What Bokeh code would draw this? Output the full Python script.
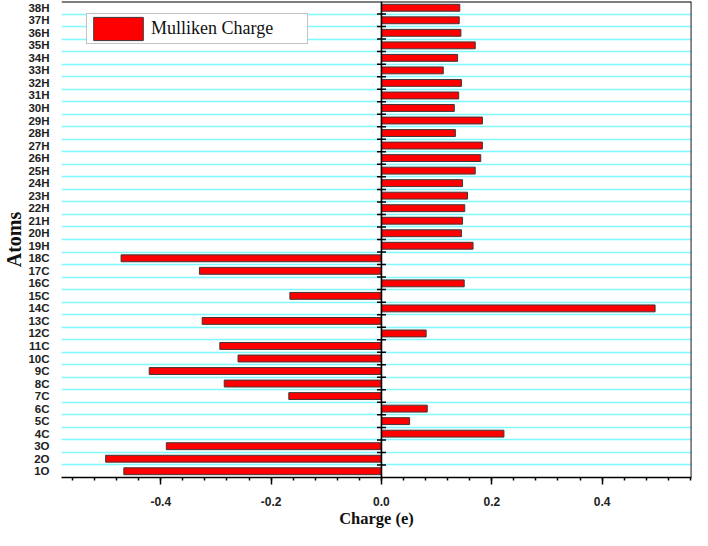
from bokeh.plotting import figure
from bokeh.models import (ColumnDataSource, FixedTicker, SingleIntervalTicker,
                          NumeralTickFormatter, Range1d, Legend, LegendItem, Span)
from bokeh.embed import file_html
from bokeh.resources import INLINE

atoms = ["1O", "2O", "3O", "4C", "5C", "6C", "7C", "8C", "9C", "10C",
         "11C", "12C", "13C", "14C", "15C", "16C", "17C", "18C", "19H", "20H",
         "21H", "22H", "23H", "24H", "25H", "26H", "27H", "28H", "29H", "30H",
         "31H", "32H", "33H", "34H", "35H", "36H", "37H", "38H"]
charges = [-0.467, -0.500, -0.390, 0.222, 0.051, 0.083, -0.168, -0.285, -0.421, -0.260,
           -0.293, 0.081, -0.325, 0.496, -0.166, 0.150, -0.330, -0.472, 0.166, 0.145,
           0.147, 0.151, 0.156, 0.147, 0.170, 0.180, 0.183, 0.134, 0.183, 0.132,
           0.140, 0.145, 0.112, 0.138, 0.170, 0.144, 0.141, 0.142]

n = len(atoms)
idx = list(range(n))
bounds = [i + 0.5 for i in range(n - 1)]

src = ColumnDataSource(dict(y=idx, right=charges, atom=atoms))
tick_src = ColumnDataSource(dict(x=[0.0] * len(bounds), y=bounds))

x_range = Range1d(-0.58, 0.562)
y_range = Range1d(-0.5, n - 0.5)

p = figure(width=692, height=530, output_backend="svg", toolbar_location=None,
           x_range=x_range, y_range=y_range,
           min_border_left=20, min_border_right=1, min_border_top=1, min_border_bottom=0)
p.outline_line_color = None
p.background_fill_color = "white"
p.border_fill_color = "white"

# grid
p.xgrid.grid_line_color = None
p.ygrid.ticker = FixedTicker(ticks=bounds)
p.ygrid.grid_line_color = "#7ff8ff"
p.ygrid.grid_line_width = 1.6

bars = p.hbar(y="y", left=0, right="right", height=0.55, source=src,
              fill_color="#ff0000", line_color="#3a3a3a", line_width=1)

# zero line with ticks
p.add_layout(Span(location=0, dimension="height", line_color="black", line_width=1.6))
p.scatter(x="x", y="y", source=tick_src, marker="dash", size=9, line_color="black",
          line_width=1.5)

# top and right borders
p.add_layout(Span(location=y_range.end, dimension="width", line_color="black", line_width=1.8))
p.add_layout(Span(location=x_range.end, dimension="height", line_color="black", line_width=1.8))

# x axis
xa = p.xaxis[0]
xa.ticker = SingleIntervalTicker(interval=0.2, num_minor_ticks=5)
xa.formatter = NumeralTickFormatter(format="0.0")
xa.axis_label = "Charge (e)"
xa.axis_label_text_font = "Liberation Serif"
xa.axis_label_text_font_style = "bold"
xa.axis_label_text_font_size = "16.5px"
xa.axis_label_text_color = "#111111"
xa.axis_label_standoff = 0
xa.major_label_text_font = "Liberation Sans"
xa.major_label_text_font_style = "bold"
xa.major_label_text_font_size = "12px"
xa.major_label_text_color = "#222222"
xa.major_label_standoff = 12
xa.axis_line_color = "black"
xa.axis_line_width = 1.6
xa.major_tick_line_color = "black"
xa.major_tick_line_width = 1.5
xa.minor_tick_line_color = "black"
xa.minor_tick_line_width = 1.5
xa.major_tick_in = 0
xa.major_tick_out = 7
xa.minor_tick_in = 0
xa.minor_tick_out = 3

# y axis
ya = p.yaxis[0]
ya.ticker = FixedTicker(ticks=idx)
ya.major_label_overrides = {i: a for i, a in zip(idx, atoms)}
ya.axis_label = "Atoms"
ya.axis_label_text_font = "Liberation Serif"
ya.axis_label_text_font_style = "bold"
ya.axis_label_text_font_size = "20px"
ya.axis_label_text_color = "#111111"
ya.axis_label_standoff = 0
ya.major_label_text_font = "Liberation Sans"
ya.major_label_text_font_style = "bold"
ya.major_label_text_font_size = "11.5px"
ya.major_label_text_color = "#222222"
ya.major_label_standoff = 6
ya.axis_line_color = None
ya.major_tick_line_color = None
ya.minor_tick_line_color = None

legend = Legend(items=[LegendItem(label="Mulliken Charge", renderers=[bars])],
                location=(25, 433))
legend.glyph_width = 62
legend.glyph_height = 29
legend.label_text_font = "Liberation Serif"
legend.label_text_font_size = "18px"
legend.label_text_color = "#111111"
legend.label_standoff = 2
legend.padding = 0
legend.margin = 0
legend.label_width = 156
legend.border_line_color = "#8a8a8a"
legend.border_line_width = 1.2
legend.background_fill_alpha = 1
p.add_layout(legend)

open("out.html", "w").write(file_html(p, INLINE))
